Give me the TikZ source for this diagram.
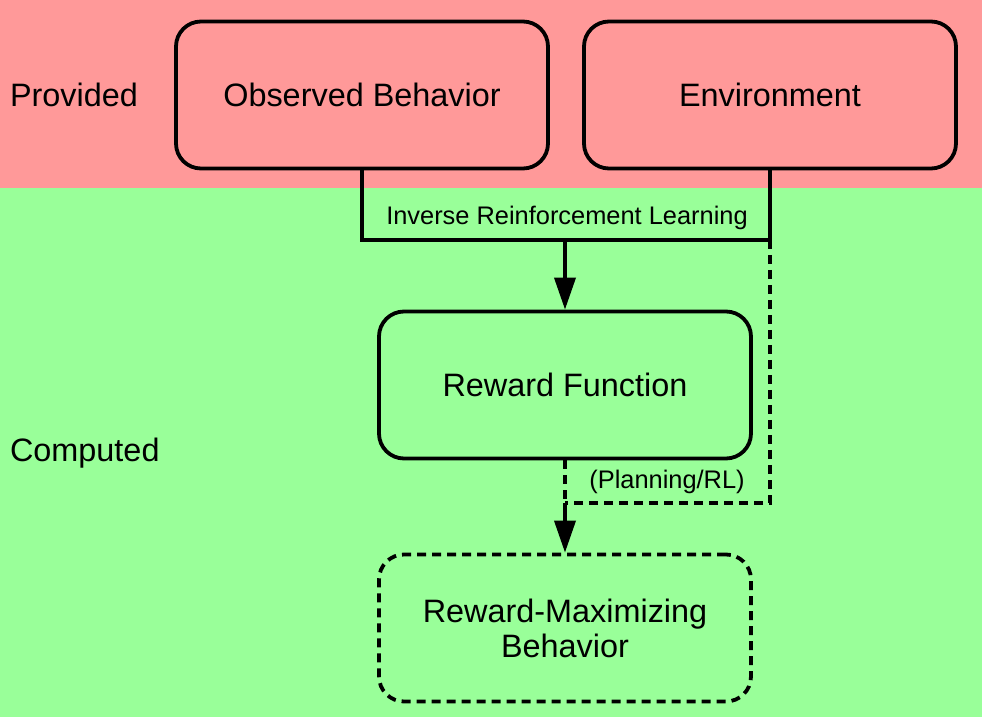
\documentclass[tikz,border=0pt]{standalone}
\usepackage{fontspec}
\setmainfont{Liberation Sans}
\usepackage{xcolor}
\usepackage{tikz}
\usetikzlibrary{arrows.meta, positioning}

\definecolor{provided}{RGB}{255,153,153}
\definecolor{computed}{RGB}{153,255,153}

\begin{document}
\begin{tikzpicture}[x=0.5pt, y=-0.5pt,
  box/.style={draw=black, line width=1.9pt, rounded corners=12.5pt,
              minimum width=186pt, minimum height=73.5pt, align=center,
              font=\fontsize{16.2}{17.5}\selectfont},
  dbox/.style={box, dash pattern=on 4.5pt off 3pt},
  ln/.style={draw=black, line width=1.9pt},
  dln/.style={ln, dash pattern=on 4.5pt off 3pt},
  arr/.style={ln, -{Triangle[length=16pt, width=10.5pt]}},
  lbl/.style={font=\fontsize{12.7}{15}\selectfont},
  side/.style={font=\fontsize{16.2}{19}\selectfont, anchor=west}
]
% bands
\fill[provided] (0,0) rectangle (982,188);
\fill[computed] (0,188) rectangle (982,717);

\node[side] (prov) at (3,95)  {Provided};
\node[side] (comp) at (3,453) {Computed};

\node[box]  (ob)  at (362,95)  {Observed Behavior};
\node[box]  (env) at (770,95)  {Environment};
\node[box]  (rf)  at (565,385) {Reward Function};
\node[dbox] (rmb) at (565,628) {Reward-Maximizing\\Behavior};

\coordinate (irl) at (565,240);
\coordinate (pl)  at (565,503);

% inverse RL
\draw[ln] (ob.south) |- (irl) -| (env.south);
\draw[arr] (irl) -- (rf.north);
\node[lbl] (irllbl) at (567,218) {Inverse Reinforcement Learning};

% planning
\draw[dln] (env.south |- irl) |- (pl);
\draw[dln] (rf.south) -- (pl);
\draw[arr] (pl) -- (rmb.north);
\node[lbl] (pllbl) at (667,482) {(Planning/RL)};
\end{tikzpicture}
\end{document}
